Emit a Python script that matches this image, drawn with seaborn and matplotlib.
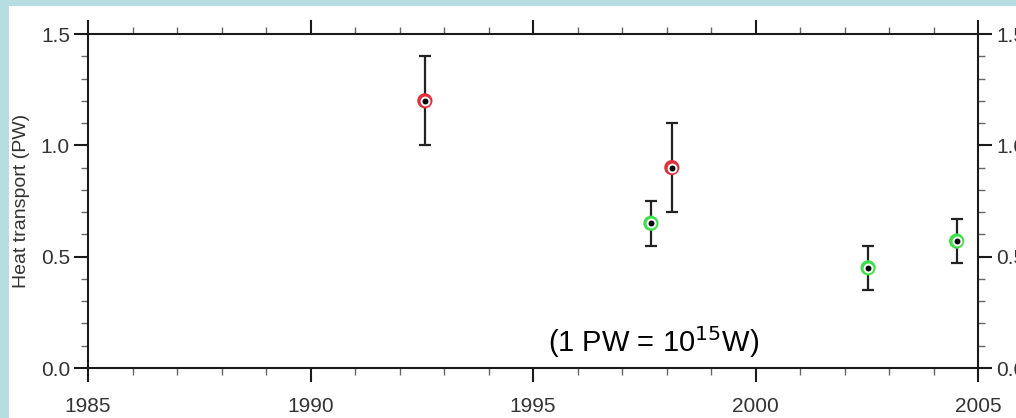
import matplotlib
matplotlib.use("Agg")
import matplotlib.pyplot as plt
from matplotlib.patches import Rectangle
from matplotlib.ticker import MultipleLocator
import seaborn as sns
import pandas as pd

# Heat transport estimates (PW) with one-sigma uncertainty
years = [1992.57, 1997.65, 1998.12, 2002.53, 2004.52]
transport = [1.20, 0.65, 0.90, 0.45, 0.57]
uncertainty = [0.20, 0.10, 0.20, 0.10, 0.10]
source = ["A", "B", "A", "B", "B"]
ring_colors = {"A": "#e0303a", "B": "#3ee04a"}

x_ticks = [1985, 1990, 1995, 2000, 2005]
y_ticks = [0.0, 0.5, 1.0, 1.5]

df = pd.DataFrame({"year": years, "pw": transport, "err": uncertainty, "src": source})

sns.set_theme(style="white")
plt.rcParams["font.family"] = ["Liberation Sans", "DejaVu Sans"]

fig = plt.figure(figsize=(10.16, 4.18), dpi=100, facecolor="white")
ax = fig.add_axes([88 / 1016, 50 / 418, 890 / 1016, 334 / 418])

# light-blue frame strips along the left and top edges
fig.patches.append(Rectangle((0, 0), 9 / 1016, 1, transform=fig.transFigure,
                             facecolor="#b6dde0", edgecolor="none", zorder=0))
fig.patches.append(Rectangle((0, 1 - 6 / 418), 1, 6 / 418, transform=fig.transFigure,
                             facecolor="#b6dde0", edgecolor="none", zorder=0))

ax.errorbar(df["year"], df["pw"], yerr=df["err"], fmt="none", ecolor="#222222",
            elinewidth=1.6, capsize=4.5, capthick=1.6, zorder=2)
sns.scatterplot(data=df, x="year", y="pw", hue="src", palette=ring_colors, s=120,
                linewidth=0, legend=False, ax=ax, zorder=3)
sns.scatterplot(data=df, x="year", y="pw", color="white", s=50, linewidth=0,
                legend=False, ax=ax, zorder=4)
sns.scatterplot(data=df, x="year", y="pw", color="black", s=18, linewidth=0,
                legend=False, ax=ax, zorder=5)

ax.set_xlim(1985, 2005)
ax.set_ylim(0, 1.5)
ax.set_xticks(x_ticks)
ax.set_yticks(y_ticks)
ax.set_xticklabels([str(t) for t in x_ticks])
ax.set_yticklabels([f"{t:.1f}" for t in y_ticks])
ax.xaxis.set_minor_locator(MultipleLocator(1))
ax.yaxis.set_minor_locator(MultipleLocator(0.1))

for side in ["left", "right", "top", "bottom"]:
    ax.spines[side].set_visible(True)
    ax.spines[side].set_color("#1a1a1a")
    ax.spines[side].set_linewidth(1.5)

ax.tick_params(which="major", direction="out", length=10, width=1.5, color="#1a1a1a",
               labelsize=15, labelcolor="#333333", pad=3,
               top=True, right=True, labelright=True, bottom=True, left=True)
ax.tick_params(axis="x", which="major", pad=11)
ax.tick_params(which="minor", direction="out", length=5, width=1.0, color="#666666",
               top=True, right=True, bottom=True, left=True)

ax.set_xlabel("")
ax.set_ylabel("Heat transport (PW)", fontsize=14, color="#333333", labelpad=8)

ax.text(1997.7, 0.117, r"(1 PW = 10$^{15}$W)", fontsize=21, color="black",
        ha="center", va="center", zorder=6)

fig.savefig("out.png", dpi=100, facecolor="white")
